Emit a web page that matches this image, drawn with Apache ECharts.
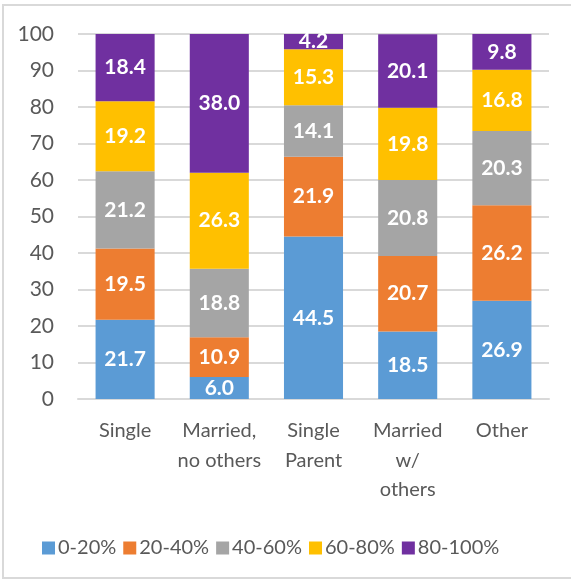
<!DOCTYPE html>
<html>
<head>
<meta charset="utf-8">
<script src="https://cdn.jsdelivr.net/npm/echarts@6/dist/echarts.min.js"></script>
<style>
  html, body { margin: 0; padding: 0; background: #fff; }
  #frame {
    position: absolute; left: 2px; top: 4px; width: 580px; height: 575px;
    border: 2px solid #d9d9d9; box-sizing: border-box;
  }
  #chart { position: absolute; left: 0; top: 0; width: 571px; height: 581px; }
</style>
</head>
<body>
<div id="frame"></div>
<div id="chart"></div>
<script>
const categories = ['Single', 'Married,\nno others', 'Single\nParent', 'Married\nw/\nothers', 'Other']
const seriesNames = ['0-20%', '20-40%', '40-60%', '60-80%', '80-100%']
const colors = ['#5b9bd5', '#ed7d31', '#a5a5a5', '#ffc000', '#7030a0']
const share0to20 = [21.7, 6.0, 44.5, 18.5, 26.9]
const share20to40 = [19.5, 10.9, 21.9, 20.7, 26.2]
const share40to60 = [21.2, 18.8, 14.1, 20.8, 20.3]
const share60to80 = [19.2, 26.3, 15.3, 19.8, 16.8]
const share80to100 = [18.4, 38.0, 4.2, 20.1, 9.8]
const yTicks = [0, 10, 20, 30, 40, 50, 60, 70, 80, 90, 100]

const seriesData = [share0to20, share20to40, share40to60, share60to80, share80to100]
const font = 'Lato, "Liberation Sans", sans-serif'

const chart = echarts.init(document.getElementById('chart'))
chart.setOption({
  animation: false,
  backgroundColor: 'transparent',
  textStyle: { fontFamily: font },
  legend: {
    left: 37,
    top: 533,
    itemWidth: 13,
    itemHeight: 13,
    itemGap: 7,
    icon: 'rect',
    textStyle: { color: '#595959', fontSize: 20, fontFamily: font, padding: [0, 0, 0, -2] },
    data: seriesNames
  },
  grid: { left: 78, right: 22, top: 34, bottom: 182 },
  xAxis: {
    type: 'category',
    data: categories,
    axisLine: { lineStyle: { color: '#d9d9d9', width: 2 } },
    axisTick: { show: false },
    axisLabel: { interval: 0, color: '#595959', fontSize: 20, lineHeight: 29.5, margin: 17, fontFamily: font }
  },
  yAxis: {
    type: 'value',
    min: yTicks[0],
    max: yTicks[yTicks.length - 1],
    interval: 10,
    axisLine: { show: false },
    axisTick: { show: false },
    splitLine: { lineStyle: { color: '#d9d9d9', width: 2 } },
    axisLabel: { color: '#595959', fontSize: 21, margin: 24, fontFamily: font }
  },
  series: seriesNames.map((name, i) => ({
    name,
    type: 'bar',
    stack: 'total',
    barWidth: '62.7%',
    itemStyle: { color: colors[i] },
    label: {
      show: true,
      position: 'inside',
      color: '#fff',
      fontWeight: 'bold',
      fontSize: 21,
      fontFamily: font,
      formatter: (p) => p.value.toFixed(1)
    },
    data: seriesData[i]
  }))
})
</script>
</body>
</html>
